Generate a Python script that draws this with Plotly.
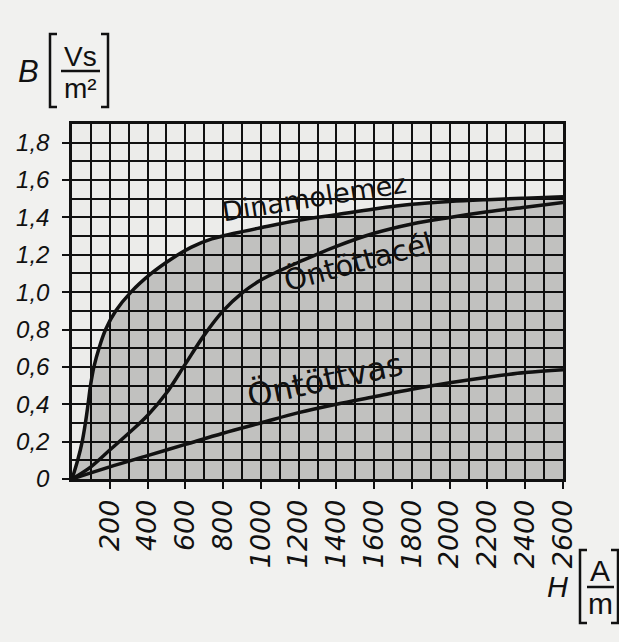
import plotly.graph_objects as go

# ---- data ----
h_dinamo = [0, 30, 54, 71, 85, 98, 116, 143, 178, 232, 312, 420, 530, 630, 740, 860, 1000, 1200, 1400, 1600, 1800, 2000, 2200, 2400, 2600]
b_dinamo = [0, 0.1, 0.2, 0.3, 0.4, 0.5, 0.6, 0.7, 0.8, 0.9, 1.0, 1.1, 1.18, 1.24, 1.285, 1.315, 1.345, 1.385, 1.415, 1.445, 1.47, 1.485, 1.495, 1.503, 1.51]

h_acel = [0, 100, 200, 300, 400, 500, 600, 700, 800, 900, 1000, 1100, 1200, 1400, 1600, 1800, 2000, 2200, 2400, 2600]
b_acel = [0, 0.065, 0.155, 0.245, 0.34, 0.46, 0.615, 0.77, 0.9, 0.995, 1.065, 1.115, 1.16, 1.245, 1.315, 1.365, 1.40, 1.43, 1.455, 1.48]

h_vas = [0, 200, 400, 600, 800, 1000, 1200, 1400, 1600, 1800, 2000, 2200, 2400, 2600]
b_vas = [0, 0.065, 0.125, 0.185, 0.245, 0.30, 0.355, 0.40, 0.44, 0.48, 0.515, 0.545, 0.57, 0.585]

x_tickvals = [200, 400, 600, 800, 1000, 1200, 1400, 1600, 1800, 2000, 2200, 2400, 2600]
x_ticktext = ["200", "400", "600", "800", "1000", "1200", "1400", "1600", "1800", "2000", "2200", "2400", "2600"]
y_tickvals = [0, 0.2, 0.4, 0.6, 0.8, 1.0, 1.2, 1.4, 1.6, 1.8]
y_ticktext = ["0", "0,2", "0,4", "0,6", "0,8", "1,0", "1,2", "1,4", "1,6", "1,8"]

curve_labels = ["Dinamolemez", "Öntöttacél", "Öntöttvas"]

# ---- layout geometry (pixels) ----
W, H = 619, 642
L, R, T, B = 72, 563, 124, 479
FONT = "Liberation Sans"
LFONT = "DejaVu Sans"


def px(x):
    return (x - L) / (R - L)


def py(y):
    return (B - y) / (B - T)


fig = go.Figure()
line_style = dict(color="#111", width=3.5, shape="spline", smoothing=1.0)
fig.add_trace(go.Scatter(x=h_dinamo, y=b_dinamo, mode="lines", fill="tozeroy",
                         fillcolor="rgba(0,0,0,0.18)", line=line_style, hoverinfo="skip"))
fig.add_trace(go.Scatter(x=h_acel, y=b_acel, mode="lines", line=line_style, hoverinfo="skip"))
fig.add_trace(go.Scatter(x=h_vas, y=b_vas, mode="lines", line=line_style, hoverinfo="skip"))

ann = []
# curve labels: (center x px, center y px, angle, size)
for text, (cx, cy, ang, sz) in zip(curve_labels, [(314, 197, -9, 27), (358, 262, -15, 29), (325, 380, -12, 32)]):
    ann.append(dict(x=px(cx), y=py(cy), xref="paper", yref="paper", text=text, showarrow=False,
                    textangle=ang, font=dict(family=LFONT, size=sz, color="#111"),
                    xanchor="center", yanchor="middle"))

# axis titles
titles = [
    dict(x=px(28), y=py(71), text="<i>B</i>", font=dict(family=FONT, size=31, color="#111")),
    dict(x=px(80), y=py(56), text="Vs", font=dict(family=FONT, size=28, color="#111")),
    dict(x=px(80), y=py(89), text="m²", font=dict(family=FONT, size=28, color="#111")),
    dict(x=px(557), y=py(587), text="<i>H</i>", font=dict(family=FONT, size=29, color="#111")),
    dict(x=px(600), y=py(570), text="A", font=dict(family=FONT, size=30, color="#111")),
    dict(x=px(600), y=py(603), text="m", font=dict(family=FONT, size=30, color="#111")),
]
for a in titles:
    a.update(xref="paper", yref="paper", showarrow=False, xanchor="center", yanchor="middle")
ann += titles


def bracket(x_out, x_in, y0, y1):
    return dict(type="path", xref="paper", yref="paper",
                path=f"M {px(x_in)} {py(y0)} L {px(x_out)} {py(y0)} L {px(x_out)} {py(y1)} L {px(x_in)} {py(y1)}",
                line=dict(color="#111", width=2.5))


def hline(x0, x1, y):
    return dict(type="line", xref="paper", yref="paper", x0=px(x0), x1=px(x1), y0=py(y), y1=py(y),
                line=dict(color="#111", width=2.5))


shapes = [
    bracket(50, 57, 34, 107),
    bracket(108, 101, 34, 107),
    hline(61, 100, 71),
    bracket(580, 587, 550, 623),
    bracket(618, 611, 550, 623),
    hline(587, 614, 587),
]

axis_common = dict(showline=True, linecolor="#111", linewidth=2.5, mirror=True,
                   showgrid=True, gridcolor="#111", gridwidth=2.2,
                   ticks="outside", tickcolor="#111", tickwidth=2, ticklen=7,
                   zeroline=False, fixedrange=True)

fig.update_layout(
    width=W, height=H,
    margin=dict(l=L, r=W - R, t=T, b=H - B),
    paper_bgcolor="#f1f1ef",
    plot_bgcolor="#ececea",
    showlegend=False,
    annotations=ann,
    shapes=shapes,
    xaxis=dict(range=[0, 2600], tickvals=x_tickvals, ticktext=x_ticktext, tickangle=-90,
               tickfont=dict(family=LFONT, size=27, color="#111", style="italic"),
               minor=dict(dtick=100, tick0=0, showgrid=True, gridcolor="#111", gridwidth=2.2),
               **axis_common),
    yaxis=dict(range=[0, 1.9], tickvals=y_tickvals, ticktext=y_ticktext,
               tickfont=dict(family=FONT, size=24, color="#111", style="italic"),
               ticklabelstandoff=8,
               minor=dict(dtick=0.1, tick0=0, showgrid=True, gridcolor="#111", gridwidth=2.2),
               **axis_common),
)

fig.write_html("out.html", config={"displayModeBar": False},
               post_script="document.body.style.margin='0px';document.body.style.overflow='hidden';")
